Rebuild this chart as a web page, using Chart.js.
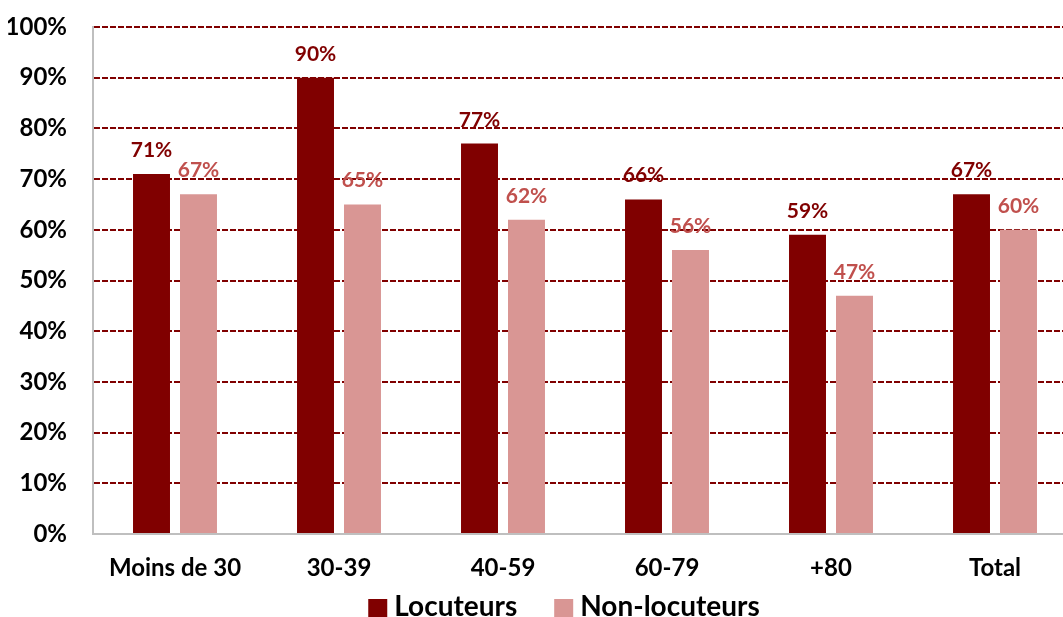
<!DOCTYPE html>
<html>
<head>
<meta charset="utf-8">
<script src="https://cdn.jsdelivr.net/npm/chart.js@4.4.1/dist/chart.umd.min.js"></script>
<style>
  html, body { margin: 0; padding: 0; background: #fff; overflow: hidden; }
  #wrap { width: 1080px; height: 617px; position: relative; }
</style>
</head>
<body>
<div id="wrap"><canvas id="c" width="1080" height="617"></canvas></div>
<script>
// Age groups and share (%) per group
const categories = ['Moins de 30', '30-39', '40-59', '60-79', '+80', 'Total'];
const locuteurs = [71, 90, 77, 66, 59, 67];
const nonLocuteurs = [67, 65, 62, 56, 47, 60];
const yTicks = [0, 10, 20, 30, 40, 50, 60, 70, 80, 90, 100];

const DARK = '#800000';
const LIGHT = '#D99694';
const LABEL_LIGHT = '#C0504D';
const FONT = 'Lato, "Open Sans", sans-serif';

// Percentage labels above each bar
const valueLabels = {
  id: 'valueLabels',
  afterDatasetsDraw(chart) {
    const ctx = chart.ctx;
    ctx.save();
    ctx.font = 'bold 21px ' + FONT;
    ctx.textAlign = 'center';
    ctx.textBaseline = 'alphabetic';
    chart.data.datasets.forEach((ds, di) => {
      const meta = chart.getDatasetMeta(di);
      ctx.fillStyle = di === 0 ? DARK : LABEL_LIGHT;
      meta.data.forEach((bar, i) => {
        ctx.fillText(ds.data[i] + '%', bar.x, bar.y - 17);
      });
    });
    ctx.restore();
  }
};

// Legend row under the axis: square swatch, then bold series name
const bottomLegend = {
  id: 'bottomLegend',
  afterDraw(chart) {
    const ctx = chart.ctx;
    const box = 19, boxGap = 7, itemGap = 37;
    ctx.save();
    ctx.font = 'bold 28px ' + FONT;
    ctx.textBaseline = 'alphabetic';
    ctx.textAlign = 'left';
    const items = chart.data.datasets.map(ds => ({
      text: ds.label, color: ds.backgroundColor, w: ctx.measureText(ds.label).width
    }));
    const total = items.reduce((s, it) => s + box + boxGap + it.w, 0) + itemGap * (items.length - 1);
    const center = (chart.chartArea.left + chart.chartArea.right) / 2 - 21;
    let x = center - total / 2;
    const boxTop = 599, baseline = 616;
    items.forEach(it => {
      ctx.fillStyle = it.color;
      ctx.fillRect(x, boxTop, box, box);
      x += box + boxGap;
      ctx.fillStyle = '#000';
      ctx.fillText(it.text, x, baseline);
      x += it.w + itemGap;
    });
    ctx.restore();
  }
};

new Chart(document.getElementById('c'), {
  type: 'bar',
  data: {
    labels: categories,
    datasets: [
      { label: 'Locuteurs', data: locuteurs, backgroundColor: DARK },
      { label: 'Non-locuteurs', data: nonLocuteurs, backgroundColor: LIGHT }
    ]
  },
  options: {
    responsive: false,
    animation: false,
    layout: { padding: { left: 8, right: 3, top: 27, bottom: 33 } },
    datasets: {
      bar: { categoryPercentage: 0.573, barPercentage: 0.787 }
    },
    scales: {
      x: {
        afterFit(scale) {
          scale.paddingLeft = 0;
          scale.paddingRight = 0;
          scale.height = 50;
        },
        grid: { display: false, drawTicks: false },
        border: { display: true, color: '#BFBFBF', width: 2 },
        ticks: {
          color: '#000',
          padding: 20,
          font: { family: FONT, weight: 'bold', size: 24 }
        }
      },
      y: {
        min: 0,
        max: 100,
        afterBuildTicks(scale) {
          scale.ticks = yTicks.map(v => ({ value: v }));
        },
        afterFit(scale) {
          scale.width = 85;
          scale.paddingTop = 0;
          scale.paddingBottom = 0;
        },
        grid: {
          drawTicks: false,
          lineWidth: 2,
          color: c => (c.tick && c.tick.value === 0) ? 'rgba(0,0,0,0)' : '#800000'
        },
        border: { display: true, color: '#BFBFBF', width: 2, dash: [6, 2] },
        ticks: {
          color: '#000',
          padding: 26,
          font: { family: FONT, weight: 'bold', size: 24 },
          callback: v => v + '%'
        }
      }
    },
    plugins: {
      legend: { display: false },
      tooltip: { enabled: false }
    }
  },
  plugins: [valueLabels, bottomLegend]
});
</script>
</body>
</html>
